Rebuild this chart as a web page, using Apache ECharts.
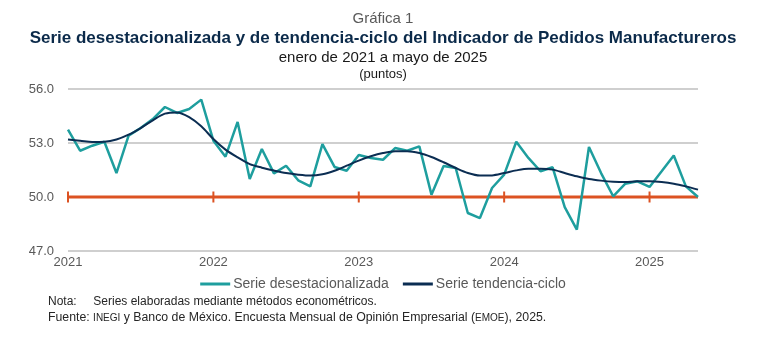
<!DOCTYPE html>
<html><head><meta charset="utf-8">
<script src="https://cdn.jsdelivr.net/npm/echarts@6/dist/echarts.min.js"></script>
<style>html,body{margin:0;padding:0;background:#fff}#c{width:766px;height:340px}</style>
</head><body><div id="c"></div>
<script>
const months = [];
const years = [2021, 2022, 2023, 2024, 2025];
for (const y of years) for (let m = 1; m <= 12; m++) { if (y === 2025 && m > 5) break; months.push(y + '-' + String(m).padStart(2, '0')); }
const desestacionalizada = [
  53.74, 52.57, 52.85, 53.07, 51.33, 53.41, 53.83, 54.33, 55.0, 54.67, 54.89, 55.41,
  53.13, 52.24, 54.17, 51.0, 52.67, 51.31, 51.74, 50.93, 50.59, 52.94, 51.67, 51.46,
  52.33, 52.17, 52.07, 52.72, 52.57, 52.81, 50.13, 51.72, 51.61, 49.11, 48.83, 50.5,
  51.24, 53.07, 52.17, 51.43, 51.65, 49.44, 48.19, 52.78, 51.33, 50.04, 50.74, 50.87,
  50.56, 51.43, 52.31, 50.59, 50.0
];
const tendencia = [
  53.19, 53.13, 53.06, 53.07, 53.19, 53.46, 53.83, 54.26, 54.63, 54.7, 54.44, 53.93,
  53.22, 52.63, 52.2, 51.83, 51.63, 51.47, 51.33, 51.24, 51.19, 51.26, 51.46, 51.74,
  52.02, 52.26, 52.44, 52.54, 52.54, 52.44, 52.22, 51.93, 51.61, 51.33, 51.19, 51.2,
  51.33, 51.48, 51.57, 51.57, 51.52, 51.33, 51.15, 51.0, 50.91, 50.85, 50.83, 50.87,
  50.87, 50.83, 50.74, 50.59, 50.41
];
const umbral = 50;
const yTicks = [47, 50, 53, 56];
const seriesNames = ['Serie desestacionalizada', 'Serie tendencia-ciclo'];

const FONT = '"Liberation Sans", Arial, sans-serif';
const chart = echarts.init(document.getElementById('c'), null, { renderer: 'canvas' });
const refData = months.map(m => m.endsWith('-01')
  ? { value: umbral, symbol: 'rect', symbolSize: [2, 11] }
  : { value: umbral, symbol: 'none' });
chart.setOption({
  animation: false,
  textStyle: { fontFamily: FONT },
  title: [
    { text: 'Gráfica 1', left: 'center', top: 6, textStyle: { fontFamily: FONT, fontSize: 15, fontWeight: 'normal', color: '#595959' } },
    { text: 'Serie desestacionalizada y de tendencia-ciclo del Indicador de Pedidos Manufactureros', left: 'center', top: 25, textStyle: { fontFamily: FONT, fontSize: 17, fontWeight: 'bold', color: '#0B2A4A' } },
    { text: 'enero de 2021 a mayo de 2025', left: 'center', top: 45, textStyle: { fontFamily: FONT, fontSize: 15, fontWeight: 'normal', color: '#1a1a1a' } },
    { text: '(puntos)', left: 'center', top: 63, textStyle: { fontFamily: FONT, fontSize: 13, fontWeight: 'normal', color: '#1a1a1a' } }
  ],
  grid: { left: 68, right: 68, top: 89, bottom: 89, containLabel: false },
  legend: {
    top: 272, left: 'center', itemGap: 14, itemWidth: 30, itemHeight: 3, icon: 'rect',
    data: seriesNames,
    textStyle: { fontFamily: FONT, fontSize: 14, color: '#595959', padding: [0, 0, 0, -2] }
  },
  xAxis: {
    type: 'category', data: months, boundaryGap: false,
    axisLine: { show: false }, axisTick: { show: false },
    axisLabel: {
      interval: (i, v) => v.endsWith('-01'), formatter: v => v.slice(0, 4),
      color: '#595959', fontSize: 13, fontFamily: FONT, margin: 5
    },
    splitLine: { show: false }
  },
  yAxis: {
    type: 'value', min: 47, max: 56, interval: 3,
    axisLine: { show: false }, axisTick: { show: false },
    axisLabel: { formatter: v => v.toFixed(1), color: '#595959', fontSize: 13, fontFamily: FONT, margin: 14 },
    splitLine: { lineStyle: { color: '#BFBFBF', width: 1.5 } }
  },
  series: [
    { name: 'umbral', type: 'line', data: refData, lineStyle: { color: '#DC5222', width: 3 }, itemStyle: { color: '#DC5222' }, z: 1, silent: true },
    { name: seriesNames[0], type: 'line', data: desestacionalizada, symbol: 'none', lineStyle: { color: '#1E9E9E', width: 2.5 }, itemStyle: { color: '#1E9E9E' }, z: 3 },
    { name: seriesNames[1], type: 'line', data: tendencia, symbol: 'none', smooth: 0.3, lineStyle: { color: '#0B2D52', width: 2 }, itemStyle: { color: '#0B2D52' }, z: 4 }
  ],
  graphic: [
    { type: 'text', left: 48, top: 296, style: { text: 'Nota:     Series elaboradas mediante métodos econométricos.', font: '12px ' + FONT, fill: '#262626' } },
    { type: 'text', left: 48, top: 312, style: {
      text: 'Fuente: {s|INEGI} y Banco de México. Encuesta Mensual de Opinión Empresarial ({s|EMOE}), 2025.',
      font: '12.3px ' + FONT, fill: '#262626',
      rich: { s: { fontSize: 10, fontFamily: FONT, fill: '#262626' } }
    } }
  ]
});
</script></body></html>
